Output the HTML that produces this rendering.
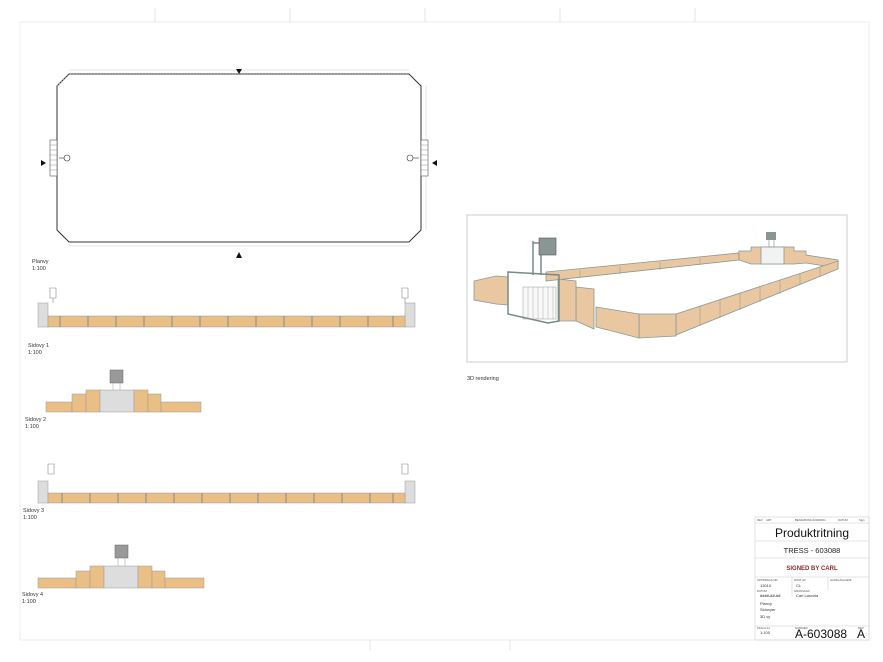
<!DOCTYPE html>
<html><head><meta charset="utf-8"><style>
html,body{margin:0;padding:0;background:#fff;}
svg{display:block;font-family:"Liberation Sans",sans-serif;}
</style></head><body>
<svg width="883" height="662" viewBox="0 0 883 662">
<rect width="883" height="662" fill="#fff"/>
<rect x="20" y="22" width="849" height="618" fill="none" stroke="#eee" stroke-width="1"/>
<g stroke="#e6e6e6"><line x1="155" y1="8" x2="155" y2="22"/><line x1="290" y1="8" x2="290" y2="22"/><line x1="425" y1="8" x2="425" y2="22"/><line x1="560" y1="8" x2="560" y2="22"/><line x1="695" y1="8" x2="695" y2="22"/><line x1="370" y1="640" x2="370" y2="650"/><line x1="510" y1="640" x2="510" y2="650"/></g>

<!-- plan -->
<polygon points="69,74 409,74 421,86 421,230 409,242 69,242 57,230 57,86" fill="#fff" stroke="#333" stroke-width="1"/>
<polyline points="57,86 69,74 409,74" fill="none" stroke="#aaa" stroke-width="2" stroke-dasharray="1,2"/>
<line x1="69" y1="70" x2="409" y2="70" stroke="#ccc" stroke-width="0.5"/>
<line x1="69" y1="246" x2="409" y2="246" stroke="#ccc" stroke-width="0.5"/>
<line x1="426" y1="86" x2="426" y2="230" stroke="#ccc" stroke-width="0.5"/>
<rect x="50" y="140" width="7" height="36" fill="#fff" stroke="#555" stroke-width="0.6"/>
<rect x="421" y="140" width="7" height="36" fill="#fff" stroke="#555" stroke-width="0.6"/>
<g stroke="#777" stroke-width="0.4"><line x1="50" y1="145" x2="57" y2="145"/><line x1="50" y1="150" x2="57" y2="150"/><line x1="50" y1="155" x2="57" y2="155"/><line x1="50" y1="160" x2="57" y2="160"/><line x1="50" y1="165" x2="57" y2="165"/><line x1="50" y1="170" x2="57" y2="170"/><line x1="421" y1="145" x2="428" y2="145"/><line x1="421" y1="150" x2="428" y2="150"/><line x1="421" y1="155" x2="428" y2="155"/><line x1="421" y1="160" x2="428" y2="160"/><line x1="421" y1="165" x2="428" y2="165"/><line x1="421" y1="170" x2="428" y2="170"/></g>
<circle cx="67" cy="158" r="3" fill="#fff" stroke="#333" stroke-width="0.6"/>
<circle cx="410" cy="158" r="3" fill="#fff" stroke="#333" stroke-width="0.6"/>
<line x1="59" y1="158" x2="64" y2="158" stroke="#333" stroke-width="0.6"/>
<line x1="413" y1="158" x2="419" y2="158" stroke="#333" stroke-width="0.6"/>
<polygon points="236,69 242,69 239,74" fill="#111"/>
<polygon points="236,258 242,258 239,252" fill="#111"/>
<polygon points="41,160 41,166 46,163" fill="#111"/>
<polygon points="437,160 437,166 432,163" fill="#111"/>
<text x="32" y="263" font-size="5.5" fill="#333">Planvy</text>
<text x="32" y="270" font-size="5.5" fill="#333">1:100</text>

<!-- Sidovy 1 -->
<g>
<rect x="38" y="303" width="10" height="24" fill="#ddd" stroke="#999" stroke-width="0.5"/>
<rect x="405" y="303" width="10" height="24" fill="#ddd" stroke="#999" stroke-width="0.5"/>
<path d="M50,288 h6 v10 h-6 z M53,298 v5 M408,288 h-6 v10 h6z M405,298 v5" fill="none" stroke="#888" stroke-width="0.6"/>
<rect x="48" y="316" width="357" height="11" fill="#e9bf86" stroke="#999" stroke-width="0.5"/>
<g stroke="#888" stroke-width="1"><line x1="60" y1="316" x2="60" y2="327"/><line x1="88" y1="316" x2="88" y2="327"/><line x1="116" y1="316" x2="116" y2="327"/><line x1="144" y1="316" x2="144" y2="327"/><line x1="172" y1="316" x2="172" y2="327"/><line x1="200" y1="316" x2="200" y2="327"/><line x1="228" y1="316" x2="228" y2="327"/><line x1="256" y1="316" x2="256" y2="327"/><line x1="284" y1="316" x2="284" y2="327"/><line x1="312" y1="316" x2="312" y2="327"/><line x1="340" y1="316" x2="340" y2="327"/><line x1="368" y1="316" x2="368" y2="327"/><line x1="393" y1="316" x2="393" y2="327"/></g>
<text x="28" y="347" font-size="5.5" fill="#333">Sidovy 1</text>
<text x="28" y="354" font-size="5.5" fill="#333">1:100</text>
</g>

<!-- Sidovy 2 -->
<g stroke="#999" stroke-width="0.5">
<rect x="110" y="370" width="13" height="13" fill="#999" stroke="#666"/>
<line x1="113" y1="383" x2="113" y2="390"/><line x1="120" y1="383" x2="120" y2="390"/>
<rect x="46" y="402" width="26" height="10" fill="#e9bf86"/>
<rect x="72" y="394" width="14" height="18" fill="#e9bf86"/>
<rect x="86" y="390" width="14" height="22" fill="#e9bf86"/>
<rect x="100" y="390" width="34" height="22" fill="#ddd"/>
<rect x="134" y="390" width="14" height="22" fill="#e9bf86"/>
<rect x="148" y="394" width="13" height="18" fill="#e9bf86"/>
<rect x="161" y="402" width="40" height="10" fill="#e9bf86"/>
</g>
<text x="25" y="421" font-size="5.5" fill="#333">Sidovy 2</text>
<text x="25" y="428" font-size="5.5" fill="#333">1:100</text>

<!-- Sidovy 3 -->
<g>
<rect x="38" y="481" width="10" height="22" fill="#ddd" stroke="#999" stroke-width="0.5"/>
<rect x="405" y="481" width="10" height="22" fill="#ddd" stroke="#999" stroke-width="0.5"/>
<path d="M48,464 h6 v10 h-6 z M408,464 h-6 v10 h6z" fill="none" stroke="#888" stroke-width="0.6"/>
<rect x="48" y="493" width="357" height="10" fill="#e9bf86" stroke="#999" stroke-width="0.5"/>
<g stroke="#888" stroke-width="1"><line x1="62" y1="493" x2="62" y2="503"/><line x1="90" y1="493" x2="90" y2="503"/><line x1="118" y1="493" x2="118" y2="503"/><line x1="146" y1="493" x2="146" y2="503"/><line x1="174" y1="493" x2="174" y2="503"/><line x1="202" y1="493" x2="202" y2="503"/><line x1="230" y1="493" x2="230" y2="503"/><line x1="258" y1="493" x2="258" y2="503"/><line x1="286" y1="493" x2="286" y2="503"/><line x1="314" y1="493" x2="314" y2="503"/><line x1="342" y1="493" x2="342" y2="503"/><line x1="370" y1="493" x2="370" y2="503"/><line x1="393" y1="493" x2="393" y2="503"/></g>
<text x="23" y="512" font-size="5.5" fill="#333">Sidovy 3</text>
<text x="23" y="519" font-size="5.5" fill="#333">1:100</text>
</g>

<!-- Sidovy 4 -->
<g stroke="#999" stroke-width="0.5">
<rect x="115" y="545" width="13" height="13" fill="#999" stroke="#666"/>
<line x1="118" y1="558" x2="118" y2="566"/><line x1="125" y1="558" x2="125" y2="566"/>
<rect x="38" y="578" width="38" height="10" fill="#e9bf86"/>
<rect x="76" y="571" width="14" height="17" fill="#e9bf86"/>
<rect x="90" y="566" width="14" height="22" fill="#e9bf86"/>
<rect x="104" y="566" width="34" height="22" fill="#ddd"/>
<rect x="138" y="566" width="14" height="22" fill="#e9bf86"/>
<rect x="152" y="571" width="13" height="17" fill="#e9bf86"/>
<rect x="165" y="578" width="39" height="10" fill="#e9bf86"/>
</g>
<text x="22" y="596" font-size="5.5" fill="#333">Sidovy 4</text>
<text x="22" y="603" font-size="5.5" fill="#333">1:100</text>

<!-- 3D -->
<rect x="467" y="215" width="380" height="147" fill="#fff" stroke="#ccc" stroke-width="1"/>
<g stroke="#8a9896" stroke-width="0.8" fill="#e9c7a0">
<!-- far wall -->
<polygon points="546,272 739,253 739,260 546,281"/>
<!-- far end -->
<polygon points="739,251 751,251 751,247 761,247 784,247 794,247 794,251 806,251 806,255 838,260 838,268 806,263 794,264 751,264 739,260"/>
<rect x="761" y="247" width="23" height="17" fill="#f2f2f2"/>
<!-- left wall -->
<polygon points="474,281 496,276 508,277 508,305 496,304 474,300"/>
<!-- near walls -->
<polygon points="676,314 838,261 838,269 676,335"/>
<polygon points="639,314 676,314 676,336 639,338"/>
<polygon points="596,307 639,314 639,338 596,327"/>
<polygon points="576,287 594,289 594,329 576,321"/>
<polygon points="558,279 576,281 576,321 558,321"/>
</g>
<g stroke="#8a9896" stroke-width="0.5">
<line x1="700" y1="306" x2="700" y2="326"/><line x1="720" y1="299" x2="720" y2="318"/><line x1="740" y1="293" x2="740" y2="310"/><line x1="760" y1="286" x2="760" y2="302"/><line x1="780" y1="280" x2="780" y2="294"/><line x1="800" y1="273" x2="800" y2="285"/><line x1="820" y1="267" x2="820" y2="277"/>
<line x1="580" y1="270" x2="580" y2="278"/><line x1="620" y1="266" x2="620" y2="274"/><line x1="660" y1="262" x2="660" y2="270"/><line x1="700" y1="258" x2="700" y2="265"/>
</g>
<rect x="523" y="287" width="33" height="32" fill="#f8f8f8" stroke="#999" stroke-width="0.5"/>
<g stroke="#999" stroke-width="0.4"><line x1="528" y1="287" x2="528" y2="319"/><line x1="533" y1="287" x2="533" y2="319"/><line x1="538" y1="287" x2="538" y2="319"/><line x1="543" y1="287" x2="543" y2="319"/><line x1="548" y1="287" x2="548" y2="319"/><line x1="553" y1="287" x2="553" y2="319"/></g>
<g stroke="#7a8a88" stroke-width="1.5" fill="none">
<polygon points="508,272 559,275 559,321 548,323 508,314"/>
<line x1="533" y1="241" x2="533" y2="275"/><line x1="541" y1="241" x2="541" y2="275"/>
<line x1="533" y1="243" x2="541" y2="243"/>
</g>
<rect x="539" y="238" width="17" height="17" fill="#8a9694" stroke="#555" stroke-width="0.6"/>
<rect x="766" y="232" width="10" height="8" fill="#8a9694"/>
<line x1="769" y1="240" x2="769" y2="247" stroke="#888" stroke-width="0.6"/>
<line x1="774" y1="240" x2="774" y2="247" stroke="#888" stroke-width="0.6"/>
<text x="467" y="380" font-size="5.5" fill="#333">3D rendering</text>

<!-- Title block -->
<g stroke="#ccc" stroke-width="0.6" fill="none">
<rect x="755" y="517" width="114" height="123"/>
<line x1="755" y1="523" x2="869" y2="523"/>
<line x1="755" y1="541" x2="869" y2="541"/>
<line x1="755" y1="558" x2="869" y2="558"/>
<line x1="755" y1="577" x2="869" y2="577"/>
<line x1="755" y1="626" x2="869" y2="626"/>
<line x1="792" y1="577" x2="792" y2="596"/>
<line x1="828" y1="577" x2="828" y2="590"/>
</g>
<g font-size="2.8" fill="#555"><text x="757" y="521">REV</text><text x="766" y="521">ART</text><text x="795" y="521">BENÄMNING/ÄNDRING</text><text x="838" y="521">DATUM</text><text x="859" y="521">Sign</text>
<text x="757" y="581">UPPDRAGS NR</text><text x="794" y="581">RITAT AV</text><text x="830" y="581">HANDLÄGGARE</text>
<text x="757" y="592">DATUM</text><text x="794" y="592">GRANSKAD</text>
<text x="757" y="629">SKALA A1</text><text x="795" y="629">NUMMER</text><text x="858" y="629">REV</text></g>
<text x="812" y="537" font-size="12" fill="#111" text-anchor="middle">Produktritning</text>
<text x="812" y="553" font-size="7.5" fill="#222" text-anchor="middle">TRESS - 603088</text>
<text x="812" y="570" font-size="6" font-weight="bold" fill="#8b2a2a" text-anchor="middle">SIGNED BY CARL</text>
<g font-size="4" fill="#333"><text x="760" y="587">13010</text><text x="796" y="587">CL</text><text x="760" y="597" font-weight="bold">####-##-##</text><text x="796" y="597">Carl Lasvola</text>
<text x="760" y="605">Planvy</text><text x="760" y="611">Sidovyer</text><text x="760" y="618">3D vy</text><text x="760" y="634">1:100</text></g>
<text x="795" y="638" font-size="12" fill="#111">A-603088</text>
<text x="857" y="638" font-size="12" fill="#111">A</text>
</svg>
</body></html>
